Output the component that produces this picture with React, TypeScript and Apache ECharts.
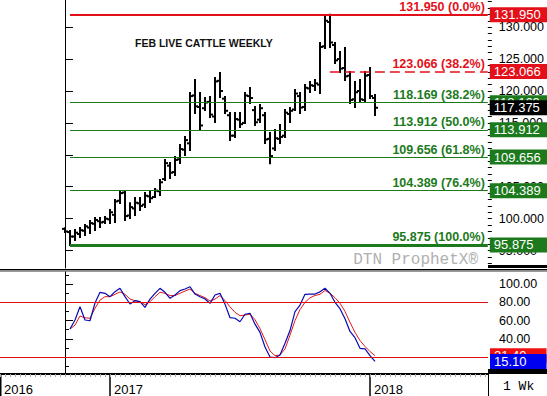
import React, { useEffect, useRef } from "react";
import * as echarts from "echarts";

// ---- data ----
const weeks = Array.from({ length: 63 }, (_, i) => i);
const opens = [98.4, 97.9, 97.2, 97.6, 98.1, 98.6, 99.2, 99.6, 99.5, 99.9, 100.6, 102.8, 104.1, 100.5, 101.6, 102.4, 102.2, 103.5, 103.4, 104.3, 106.2, 108.3, 107.3, 109.3, 110.8, 111.8, 119.3, 117.5, 117.3, 118.3, 116.0, 121.6, 118.8, 116.2, 113.0, 115.5, 115.0, 119.2, 117.0, 115.5, 116.2, 112.5, 111.0, 112.5, 113.0, 116.4, 117.1, 119.2, 117.5, 120.4, 120.8, 121.0, 127.0, 130.8, 127.2, 125.0, 123.6, 122.4, 118.7, 120.0, 118.6, 122.5, 118.9];
const highs = [98.5, 98.07, 98.23, 98.54, 99.01, 99.64, 100.1, 100.1, 100.26, 101.36, 102.92, 104.34, 104.34, 102.4, 103.24, 103.24, 104.0, 104.18, 104.65, 106.06, 109.19, 108.72, 109.66, 111.54, 112.79, 119.69, 121.72, 119.69, 118.9, 119.06, 122.04, 122.82, 119.06, 116.55, 116.55, 116.55, 119.69, 120.47, 117.49, 117.81, 116.55, 113.42, 113.89, 114.67, 117.02, 117.34, 120.15, 119.69, 120.94, 121.41, 121.72, 127.52, 131.59, 131.95, 127.52, 126.11, 126.73, 122.98, 121.41, 121.72, 122.98, 123.6, 119.37];
const lows = [97.9, 95.875, 96.66, 97.13, 97.44, 97.75, 98.23, 98.7, 99.32, 99.32, 99.48, 102.45, 99.79, 100.1, 100.57, 101.36, 101.83, 102.61, 103.4, 103.71, 106.06, 106.37, 106.84, 108.72, 109.97, 110.76, 116.55, 113.89, 117.02, 115.93, 115.14, 119.06, 116.55, 112.32, 112.79, 114.36, 114.99, 118.12, 114.67, 115.14, 111.85, 108.69, 110.76, 111.85, 112.79, 115.14, 117.02, 116.55, 117.02, 119.84, 120.15, 119.69, 126.73, 126.89, 124.39, 122.98, 121.72, 118.12, 117.49, 118.28, 118.28, 118.9, 116.24];
const closes = [98.0, 97.2, 97.8, 98.2, 98.8, 99.3, 99.8, 99.4, 100.0, 101.0, 102.7, 104.0, 100.4, 101.8, 102.5, 102.0, 103.6, 103.2, 104.4, 105.7, 108.7, 107.2, 109.2, 110.9, 112.3, 119.2, 117.6, 114.6, 118.2, 116.3, 121.5, 120.0, 116.9, 113.0, 115.6, 114.8, 119.3, 118.9, 115.1, 117.3, 112.4, 109.8, 112.6, 112.8, 116.6, 116.9, 119.6, 117.4, 120.5, 120.9, 121.2, 126.9, 131.0, 127.6, 124.8, 123.5, 122.3, 118.6, 119.8, 118.7, 122.4, 119.2, 117.375];

// stochastics start at week 1
const stochK = [50.7, 60.6, 75.2, 60.6, 59.8, 79.3, 91, 89.9, 86.2, 91.7, 95.4, 86.2, 78.2, 81.8, 80.7, 74.5, 83.6, 89.9, 95.4, 91, 84.4, 88, 92.8, 94.6, 97.1, 89.1, 86.2, 83.6, 78.9, 88, 89.9, 78, 63.1, 62.5, 58.7, 66.9, 68, 56, 47, 31, 20, 19.2, 22.2, 35, 49, 69.7, 77, 88.8, 89.1, 89.1, 91.5, 95.5, 89.9, 80, 73, 62, 48, 41.2, 29.5, 28.8, 21.5, 15.1];
const stochD = [50.7, 55, 65, 63, 62.5, 73.4, 82.5, 86.2, 86.2, 88.8, 91.4, 88.8, 83.6, 81.8, 80.7, 77.5, 80.7, 86.2, 91, 89.9, 87.4, 87.4, 89.9, 92.4, 94.6, 89.9, 87.4, 85.1, 81.5, 83.6, 87.4, 82, 75, 69, 65.3, 66, 67, 61, 51, 39, 26.6, 21.4, 22.2, 28.8, 44, 60, 72, 80, 85, 87.5, 88.8, 93, 89.9, 85.1, 79, 70, 58, 47, 38, 31.5, 26, 21.4];

const fibLevels = [131.95, 123.066, 118.169, 113.912, 109.656, 104.389, 95.875];
const fibPercents = ["0.0%", "38.2%", "38.2%", "50.0%", "61.8%", "76.4%", "100.0%"];
const fibStartWeeks = [1, 53, 1, 1, 1, 1, 1];
const lastPrice = 117.375;

const priceTicks = [95, 100, 105, 110, 115, 120, 125, 130];
const priceMinorTicks = Array.from({ length: 42 }, (_, i) => 93 + i);
const stochTicks = [20, 40, 60, 80, 100];
const stochMinorTicks = [10, 30, 50, 70, 90, 110];
const stochBands = [80, 20];
const yearLabels = ["2016", "2017", "2018"];
const yearWeeks = [-13, 9, 61];

// ---- layout constants ----
const X_MIN = -13;
const X_MAX = 84.6;
const RED = "#e3101a";
const GREEN = "#1c7a1c";
const FONT = '"Liberation Sans", Arial, sans-serif';
const HIDDEN_LINE = { color: "rgba(0,0,0,0)", width: 0 };

export default function App() {
  const ref = useRef<HTMLDivElement>(null);

  useEffect(() => {
    if (!ref.current) return;
    const chart = echarts.init(ref.current, null, { renderer: "svg" });

    const ohlc = weeks.map((w, i) => [w, opens[i], highs[i], lows[i], closes[i]]);
    const kData = stochK.map((v, i) => [i + 1, v]);
    const dData = stochD.map((v, i) => [i + 1, v]);

    const isRed = (i: number) => i < 2;
    const lineWidthFor = (i: number) => (i === 0 ? 2 : i === 6 ? 3 : i === 1 ? 1.5 : 1);

    const fibLines = fibLevels.map((lv, i) => [
      {
        coord: [fibStartWeeks[i], lv],
        lineStyle: {
          color: isRed(i) ? RED : GREEN,
          width: lineWidthFor(i),
          type: i === 1 ? [10, 5] : "solid",
          opacity: 1,
        },
        label: {
          show: true,
          position: "insideEndTop",
          distance: [3, 1],
          formatter: `${lv.toFixed(3)} (${fibPercents[i]})`,
          color: isRed(i) ? RED : GREEN,
          fontWeight: "bold",
          fontSize: 12.5,
          fontFamily: FONT,
        },
      },
      { coord: [X_MAX, lv] },
    ]);

    const boxLabel = (text: string, bg: string) => ({
      show: true,
      position: "end",
      distance: [2, 0],
      formatter: text,
      color: "#fff",
      opacity: 1,
      backgroundColor: bg,
      fontSize: 13,
      lineHeight: 14,
      fontFamily: FONT,
      padding: [1, 20, 0, 4],
    });

    const fibBoxes = fibLevels.map((lv, i) => [
      { coord: [X_MIN, lv], lineStyle: HIDDEN_LINE, label: boxLabel(lv.toFixed(3), isRed(i) ? RED : GREEN) },
      { coord: [X_MAX, lv] },
    ]);

    const option: any = {
      animation: false,
      backgroundColor: "#fff",
      textStyle: { fontFamily: FONT },
      grid: [
        { left: 0, top: 0, width: 488, height: 268 },
        { left: 0, top: 272, width: 488, height: 102 },
      ],
      xAxis: [
        { gridIndex: 0, type: "value", min: X_MIN, max: X_MAX, show: false },
        {
          gridIndex: 1,
          type: "value",
          min: X_MIN,
          max: X_MAX,
          position: "bottom",
          splitLine: { show: false },
          axisLine: { show: true, onZero: false, lineStyle: { color: "#000", width: 2 } },
          axisTick: { show: true, customValues: yearWeeks, length: 22, lineStyle: { color: "#000", width: 1.5 } },
          axisLabel: {
            show: true,
            customValues: yearWeeks,
            formatter: (v: number) => yearLabels[yearWeeks.indexOf(Math.round(v))] ?? "",
            align: "left",
            padding: [0, 0, 0, 4],
            margin: 9,
            fontSize: 13,
            color: "#000",
            fontFamily: FONT,
          },
        },
        {
          gridIndex: 1,
          type: "value",
          min: X_MIN,
          max: X_MAX,
          position: "bottom",
          splitLine: { show: false },
          axisLine: { show: false },
          axisLabel: { show: false },
          axisTick: { show: true, customValues: weeks.map((w) => w - 13).concat(weeks.map((w) => w + 50)), length: 3, lineStyle: { color: "#aaa", width: 1 } },
        },
      ],
      yAxis: [
        {
          gridIndex: 0,
          type: "value",
          position: "right",
          min: 92.27,
          max: 134.253,
          splitLine: { show: false },
          axisLine: { show: true, lineStyle: { color: "#000", width: 1 } },
          axisTick: { show: true, customValues: priceTicks, length: 8, lineStyle: { color: "#000" } },
          axisLabel: {
            show: true,
            customValues: priceTicks,
            formatter: (v: number) => v.toFixed(3),
            margin: 11,
            fontSize: 12.5,
            color: "#000",
            fontFamily: FONT,
          },
        },
        {
          gridIndex: 0,
          type: "value",
          position: "right",
          min: 92.27,
          max: 134.253,
          splitLine: { show: false },
          axisLine: { show: false },
          axisLabel: { show: false },
          axisTick: { show: true, customValues: priceMinorTicks, length: 4, lineStyle: { color: "#000" } },
        },
        {
          gridIndex: 1,
          type: "value",
          position: "right",
          min: 1.3,
          max: 113.3,
          splitLine: { show: false },
          axisLine: { show: true, lineStyle: { color: "#000", width: 1 } },
          axisTick: { show: true, customValues: stochTicks, length: 8, lineStyle: { color: "#000" } },
          axisLabel: {
            show: true,
            customValues: stochTicks,
            formatter: (v: number) => v.toFixed(2),
            margin: 11,
            fontSize: 12.5,
            color: "#000",
            fontFamily: FONT,
          },
        },
        {
          gridIndex: 1,
          type: "value",
          position: "right",
          min: 1.3,
          max: 113.3,
          splitLine: { show: false },
          axisLine: { show: false },
          axisLabel: { show: false },
          axisTick: { show: true, customValues: stochMinorTicks, length: 4, lineStyle: { color: "#000" } },
        },
      ],
      series: [
        {
          type: "line",
          xAxisIndex: 0,
          yAxisIndex: 0,
          data: [],
          z: 2,
          markLine: { silent: true, symbol: "none", data: fibLines, animation: false },
        },
        {
          type: "custom",
          xAxisIndex: 0,
          yAxisIndex: 0,
          z: 3,
          data: ohlc,
          encode: { x: 0, y: [1, 2, 3, 4] },
          renderItem: (params: any, api: any) => {
            const w = api.value(0);
            const o = api.coord([w, api.value(1)]);
            const h = api.coord([w, api.value(2)]);
            const l = api.coord([w, api.value(3)]);
            const c = api.coord([w, api.value(4)]);
            const x = Math.round(h[0]);
            const style = { stroke: "#000", lineWidth: 2 };
            return {
              type: "group",
              children: [
                { type: "line", shape: { x1: x, y1: h[1] - 1, x2: x, y2: l[1] + 1 }, style },
                { type: "line", shape: { x1: x - 3, y1: o[1], x2: x, y2: o[1] }, style },
                { type: "line", shape: { x1: x, y1: c[1], x2: x + 3, y2: c[1] }, style },
              ],
            };
          },
        },
        {
          type: "line",
          xAxisIndex: 0,
          yAxisIndex: 0,
          data: [],
          z: 5,
          markLine: { silent: true, symbol: "none", data: fibBoxes, animation: false },
        },
        {
          type: "line",
          xAxisIndex: 0,
          yAxisIndex: 0,
          data: [],
          z: 6,
          markLine: {
            silent: true,
            symbol: "none",
            animation: false,
            data: [[{ coord: [X_MIN, lastPrice], lineStyle: HIDDEN_LINE, label: boxLabel(lastPrice.toFixed(3), "#000") }, { coord: [X_MAX, lastPrice] }]],
          },
        },
        {
          type: "line",
          xAxisIndex: 1,
          yAxisIndex: 2,
          data: dData,
          showSymbol: false,
          symbol: "none",
          z: 3,
          lineStyle: { color: "#e01818", width: 1 },
          markLine: {
            silent: true,
            symbol: "none",
            animation: false,
            data: [
              ...stochBands.map((b) => [
                { coord: [X_MIN, b], lineStyle: { color: "#e01010", width: 1, type: "solid" }, label: { show: false } },
                { coord: [X_MAX, b] },
              ]),
              [
                { coord: [X_MIN, stochD[stochD.length - 1]], lineStyle: HIDDEN_LINE, label: boxLabel(stochD[stochD.length - 1].toFixed(2), "#f01010") },
                { coord: [X_MAX, stochD[stochD.length - 1]] },
              ],
            ],
          },
        },
        {
          type: "line",
          xAxisIndex: 1,
          yAxisIndex: 2,
          data: kData,
          showSymbol: false,
          symbol: "none",
          z: 4,
          lineStyle: { color: "#0a0ab4", width: 1.2 },
          markLine: {
            silent: true,
            symbol: "none",
            animation: false,
            data: [
              [
                { coord: [X_MIN, stochK[stochK.length - 1]], lineStyle: HIDDEN_LINE, label: boxLabel(stochK[stochK.length - 1].toFixed(2), "#0000f0") },
                { coord: [X_MAX, stochK[stochK.length - 1]] },
              ],
            ],
          },
        },
      ],
      graphic: [
        {
          type: "text",
          x: 135,
          y: 43,
          style: { text: "FEB LIVE CATTLE WEEKLY", font: `bold 10.5px ${FONT}`, fill: "#111", textVerticalAlign: "middle" },
        },
        {
          type: "text",
          x: 478,
          y: 260,
          style: { text: "DTN ProphetX\u00ae", font: '16px "Liberation Mono", monospace', fill: "#b0b0b0", textAlign: "right", textVerticalAlign: "middle" },
        },
        { type: "rect", shape: { x: 488, y: 265, width: 59, height: 3 }, style: { fill: "#000" } },
        { type: "rect", shape: { x: 0, y: 269, width: 547, height: 1.5 }, style: { fill: "#000" } },
        { type: "rect", shape: { x: 0, y: 270.5, width: 547, height: 1.5 }, style: { fill: "#999" } },
        { type: "rect", shape: { x: 488, y: 369, width: 59, height: 5 }, style: { fill: "#000" } },
        { type: "line", shape: { x1: 0.75, y1: 374, x2: 0.75, y2: 396 }, style: { stroke: "#000", lineWidth: 1.5 } },
        { type: "line", shape: { x1: 488.5, y1: 374, x2: 488.5, y2: 396 }, style: { stroke: "#000", lineWidth: 1 } },
        {
          type: "text",
          x: 503,
          y: 386,
          style: { text: "1 Wk", font: '13px "Liberation Mono", monospace', fill: "#000", textVerticalAlign: "middle" },
        },
      ],
    };

    chart.setOption(option);
    return () => chart.dispose();
  }, []);

  return (
    <div
      ref={ref}
      style={{ position: "fixed", left: 0, top: 0, width: 547, height: 396, background: "#fff" }}
    />
  );
}
